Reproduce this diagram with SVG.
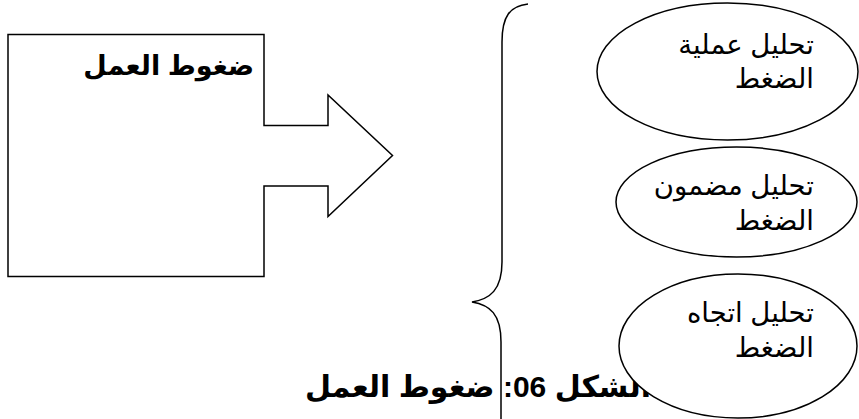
<svg xmlns="http://www.w3.org/2000/svg" width="859" height="419" viewBox="0 0 859 419">
<style>
.shape{fill:#fff;stroke:#000;stroke-width:1.5}
.line{fill:none;stroke:#000;stroke-width:1.5}
.ar{font-family:"Liberation Sans","DejaVu Sans",sans-serif;fill:#000}
.bold{font-weight:bold}
.lbl{font-size:27.5px}
</style>
<rect width="859" height="419" fill="#fff"/>
<g id="work-stress">
<path class="shape" d="M8,34.5 H264 V125.5 H328 V95 L392.5,155.5 L328,216.5 V186 H264 V276.5 H8 Z"/>
<text class="ar bold" x="254" y="75" font-size="27" text-anchor="end">ضغوط العمل</text>
</g>
<text id="caption" class="ar bold" x="305" y="397" font-size="30" direction="rtl" text-anchor="end">الشكل 06: ضغوط العمل</text>
<g id="connectors">
<path id="brace" class="line" d="M528,4 C510,6 502,16 502,42 L502,262 C502,290 490,299 472,302 C490,305 501,314 501,342 L501,420"/>
</g>
<g id="process">
<ellipse class="shape" cx="727.5" cy="71.5" rx="130.5" ry="68.5"/>
<text class="ar lbl" x="814" y="54" text-anchor="end">تحليل عملية</text>
<text class="ar lbl" x="814" y="88" text-anchor="end">الضغط</text>
</g>
<g id="content">
<ellipse class="shape" cx="736.5" cy="202" rx="120.5" ry="55"/>
<text class="ar lbl" x="814" y="195" text-anchor="end">تحليل مضمون</text>
<text class="ar lbl" x="814" y="230" text-anchor="end">الضغط</text>
</g>
<g id="direction">
<ellipse class="shape" cx="738" cy="346" rx="119" ry="72"/>
<text class="ar lbl" x="814" y="322" text-anchor="end">تحليل اتجاه</text>
<text class="ar lbl" x="814" y="357" text-anchor="end">الضغط</text>
</g>
</svg>
